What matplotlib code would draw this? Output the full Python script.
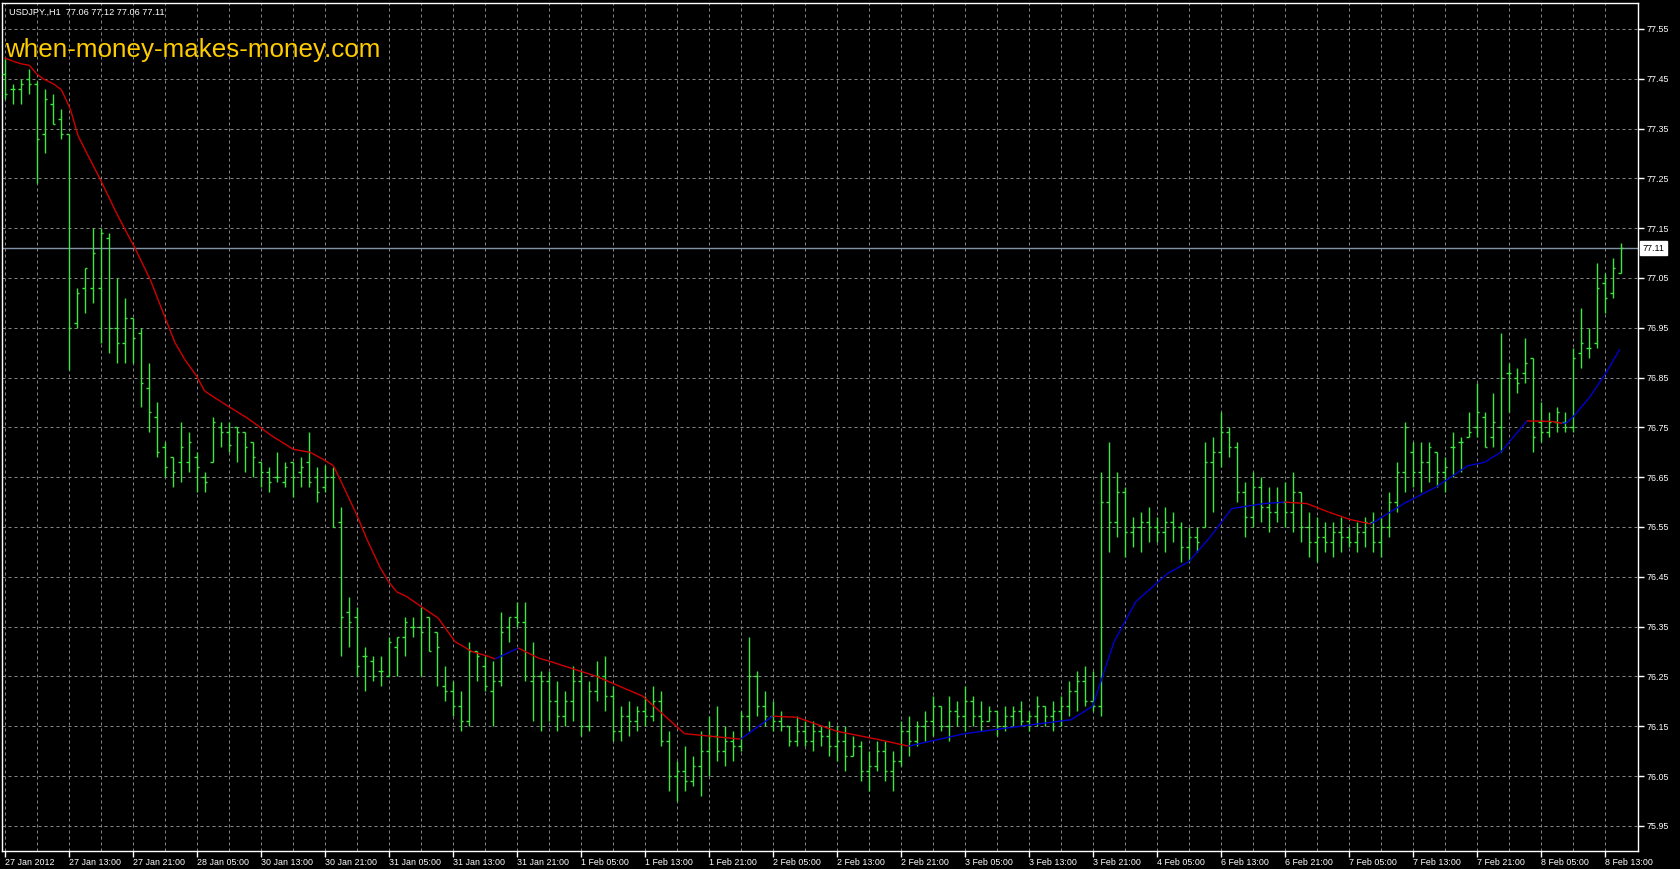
import matplotlib
matplotlib.use('Agg')
import matplotlib.pyplot as plt
import numpy as np

# USDJPY H1 bars (27 Jan 2012 .. 8 Feb 2012)
opens = [77.46, 77.43, 77.43, 77.45, 77.44, 77.34, 77.40, 77.37, 77.34, 76.96,
         77.03, 77.03, 77.03, 77.13, 76.95, 76.92, 76.97, 76.94, 76.83, 76.77,
         76.71, 76.69, 76.68, 76.68, 76.69, 76.65, 76.68, 76.75, 76.74, 76.75,
         76.74, 76.72, 76.68, 76.66, 76.65, 76.64, 76.68, 76.66, 76.68, 76.65,
         76.63, 76.65, 76.56, 76.38, 76.37, 76.29, 76.28, 76.26, 76.25, 76.31,
         76.33, 76.35, 76.35, 76.37, 76.34, 76.23, 76.22, 76.19, 76.16, 76.30,
         76.27, 76.22, 76.24, 76.35, 76.37, 76.36, 76.24, 76.25, 76.24, 76.20,
         76.17, 76.20, 76.24, 76.15, 76.22, 76.25, 76.21, 76.14, 76.17, 76.16,
         76.18, 76.17, 76.20, 76.12, 76.05, 76.06, 76.04, 76.07, 76.10, 76.13,
         76.10, 76.12, 76.11, 76.17, 76.25, 76.19, 76.17, 76.16, 76.15, 76.12,
         76.14, 76.12, 76.14, 76.13, 76.11, 76.12, 76.09, 76.11, 76.06, 76.07,
         76.10, 76.06, 76.08, 76.14, 76.12, 76.15, 76.16, 76.19, 76.15, 76.18,
         76.17, 76.20, 76.17, 76.16, 76.18, 76.15, 76.17, 76.18, 76.16, 76.17,
         76.19, 76.17, 76.18, 76.19, 76.22, 76.24, 76.20, 76.19, 76.60, 76.56,
         76.62, 76.54, 76.55, 76.56, 76.55, 76.54, 76.56, 76.55, 76.51, 76.53,
         76.55, 76.68, 76.70, 76.74, 76.71, 76.62, 76.57, 76.63, 76.59, 76.58,
         76.60, 76.58, 76.62, 76.55, 76.52, 76.53, 76.52, 76.54, 76.53, 76.52,
         76.54, 76.56, 76.52, 76.55, 76.60, 76.66, 76.70, 76.66, 76.68, 76.70,
         76.66, 76.71, 76.72, 76.73, 76.75, 76.77, 76.73, 76.75, 76.86, 76.85,
         76.86, 76.89, 76.76, 76.74, 76.76, 76.76, 76.75, 76.90, 76.91, 76.92,
         77.04, 77.02, 77.06]
highs = [77.49, 77.44, 77.45, 77.47, 77.445, 77.43, 77.42, 77.39, 77.34, 77.03,
         77.07, 77.15, 77.15, 77.14, 77.05, 77.01, 76.97, 76.95, 76.88, 76.80,
         76.72, 76.69, 76.76, 76.74, 76.70, 76.66, 76.77, 76.76, 76.76, 76.75,
         76.74, 76.72, 76.68, 76.67, 76.70, 76.68, 76.68, 76.69, 76.74, 76.67,
         76.675, 76.67, 76.59, 76.41, 76.39, 76.31, 76.29, 76.29, 76.33, 76.33,
         76.37, 76.37, 76.39, 76.37, 76.34, 76.27, 76.24, 76.22, 76.32, 76.30,
         76.29, 76.28, 76.38, 76.37, 76.40, 76.40, 76.32, 76.26, 76.26, 76.24,
         76.22, 76.27, 76.26, 76.24, 76.28, 76.29, 76.23, 76.19, 76.20, 76.19,
         76.21, 76.23, 76.22, 76.14, 76.08, 76.11, 76.09, 76.14, 76.17, 76.19,
         76.15, 76.14, 76.18, 76.33, 76.26, 76.22, 76.20, 76.18, 76.15, 76.17,
         76.16, 76.16, 76.15, 76.16, 76.15, 76.15, 76.13, 76.12, 76.10, 76.12,
         76.12, 76.10, 76.16, 76.17, 76.16, 76.18, 76.21, 76.19, 76.21, 76.20,
         76.23, 76.21, 76.20, 76.19, 76.18, 76.19, 76.19, 76.20, 76.18, 76.21,
         76.19, 76.20, 76.21, 76.24, 76.26, 76.27, 76.26, 76.66, 76.72, 76.66,
         76.63, 76.57, 76.58, 76.59, 76.57, 76.59, 76.58, 76.56, 76.55, 76.55,
         76.72, 76.73, 76.78, 76.75, 76.72, 76.64, 76.66, 76.65, 76.63, 76.63,
         76.64, 76.66, 76.62, 76.58, 76.57, 76.56, 76.56, 76.57, 76.55, 76.56,
         76.57, 76.58, 76.57, 76.62, 76.68, 76.76, 76.72, 76.72, 76.72, 76.70,
         76.69, 76.74, 76.73, 76.78, 76.84, 76.78, 76.82, 76.94, 76.88, 76.87,
         76.93, 76.89, 76.80, 76.78, 76.79, 76.78, 76.91, 76.99, 76.95, 77.08,
         77.06, 77.09, 77.12]
lows = [77.41, 77.40, 77.40, 77.42, 77.24, 77.30, 77.36, 77.33, 76.865, 76.95,
        76.98, 77.00, 76.92, 76.90, 76.88, 76.88, 76.88, 76.79, 76.74, 76.69,
        76.65, 76.63, 76.64, 76.66, 76.62, 76.62, 76.68, 76.71, 76.70, 76.68,
        76.66, 76.65, 76.63, 76.62, 76.64, 76.63, 76.61, 76.63, 76.63, 76.60,
        76.62, 76.55, 76.29, 76.31, 76.25, 76.22, 76.24, 76.23, 76.25, 76.25,
        76.29, 76.33, 76.25, 76.30, 76.23, 76.20, 76.17, 76.14, 76.15, 76.24,
        76.22, 76.15, 76.23, 76.32, 76.35, 76.24, 76.16, 76.14, 76.16, 76.14,
        76.15, 76.16, 76.13, 76.14, 76.20, 76.18, 76.12, 76.12, 76.13, 76.14,
        76.15, 76.16, 76.11, 76.02, 76.00, 76.02, 76.03, 76.01, 76.05, 76.08,
        76.07, 76.08, 76.10, 76.14, 76.17, 76.15, 76.14, 76.14, 76.11, 76.11,
        76.11, 76.10, 76.11, 76.09, 76.08, 76.06, 76.09, 76.04, 76.02, 76.06,
        76.04, 76.02, 76.07, 76.09, 76.11, 76.12, 76.13, 76.14, 76.12, 76.15,
        76.14, 76.15, 76.14, 76.16, 76.13, 76.14, 76.15, 76.15, 76.14, 76.15,
        76.15, 76.14, 76.15, 76.17, 76.18, 76.19, 76.18, 76.17, 76.50, 76.53,
        76.49, 76.51, 76.50, 76.52, 76.52, 76.50, 76.52, 76.48, 76.48, 76.50,
        76.55, 76.58, 76.67, 76.69, 76.60, 76.53, 76.55, 76.56, 76.54, 76.56,
        76.55, 76.54, 76.52, 76.49, 76.48, 76.50, 76.49, 76.50, 76.51, 76.50,
        76.51, 76.50, 76.49, 76.53, 76.58, 76.62, 76.63, 76.62, 76.64, 76.63,
        76.62, 76.65, 76.66, 76.73, 76.73, 76.71, 76.71, 76.70, 76.78, 76.82,
        76.84, 76.70, 76.72, 76.73, 76.74, 76.74, 76.74, 76.87, 76.89, 76.91,
        76.98, 77.01, 77.06]
closes = [77.42, 77.43, 77.44, 77.44, 77.33, 77.41, 77.36, 77.34, 76.95, 77.02,
          77.07, 77.10, 77.14, 76.95, 76.92, 76.97, 76.93, 76.84, 76.78, 76.70,
          76.67, 76.66, 76.71, 76.72, 76.67, 76.64, 76.76, 76.74, 76.715, 76.74,
          76.71, 76.69, 76.66, 76.64, 76.65, 76.67, 76.65, 76.67, 76.64, 76.62,
          76.65, 76.55, 76.37, 76.36, 76.27, 76.29, 76.25, 76.26, 76.32, 76.33,
          76.36, 76.35, 76.34, 76.30, 76.31, 76.22, 76.19, 76.16, 76.30, 76.29,
          76.23, 76.24, 76.34, 76.37, 76.36, 76.25, 76.25, 76.24, 76.20, 76.17,
          76.20, 76.24, 76.15, 76.22, 76.25, 76.21, 76.14, 76.17, 76.16, 76.18,
          76.17, 76.20, 76.12, 76.05, 76.06, 76.04, 76.07, 76.10, 76.13, 76.10,
          76.12, 76.11, 76.17, 76.25, 76.19, 76.17, 76.16, 76.15, 76.12, 76.14,
          76.12, 76.14, 76.13, 76.11, 76.12, 76.09, 76.11, 76.06, 76.07, 76.10,
          76.06, 76.08, 76.14, 76.12, 76.15, 76.16, 76.19, 76.15, 76.18, 76.17,
          76.20, 76.17, 76.16, 76.18, 76.15, 76.17, 76.18, 76.16, 76.17, 76.19,
          76.17, 76.18, 76.19, 76.22, 76.24, 76.20, 76.19, 76.60, 76.56, 76.62,
          76.54, 76.55, 76.56, 76.55, 76.54, 76.56, 76.55, 76.51, 76.53, 76.52,
          76.68, 76.70, 76.74, 76.71, 76.62, 76.57, 76.63, 76.59, 76.58, 76.60,
          76.58, 76.62, 76.55, 76.52, 76.53, 76.52, 76.54, 76.53, 76.52, 76.54,
          76.56, 76.52, 76.55, 76.60, 76.66, 76.75, 76.66, 76.68, 76.71, 76.66,
          76.67, 76.71, 76.72, 76.74, 76.78, 76.71, 76.76, 76.85, 76.86, 76.84,
          76.88, 76.73, 76.74, 76.76, 76.78, 76.75, 76.89, 76.92, 76.91, 77.03,
          77.01, 77.07, 77.11]

# moving average line (bar index, price)
ma_x = [0, 1.1, 2.1, 3.1, 4.0, 4.8, 6.1, 7.1, 8.2, 9.2, 10.3, 11.9, 14, 15.3, 16.3,
        17.5, 18.2, 20, 21.3, 22.5, 24, 25, 27.2, 28.9, 30.5, 32.2, 33.4, 34.4,
        36.1, 38.2, 39.8, 41.1, 42.1, 44, 45.3, 46.9, 48, 49, 50.3, 52.1, 54.2,
        56.3, 58.4, 60.5, 61.3, 64.2, 66.7, 68.2, 74, 79.8, 85, 92, 96, 99, 104,
        109, 113, 120, 127, 133.3, 136, 138.7, 141.4, 145.4, 148, 150.7, 153.4,
        157.4, 160, 162.8, 165.5, 168.2, 170.8, 174.9, 178.9, 182.9, 185, 187,
        190.3, 193.4, 194.7, 195.2, 196, 198.1, 200.2, 201.9]
ma_val = [77.492, 77.485, 77.48, 77.477, 77.46, 77.45, 77.44, 77.428, 77.39, 77.335,
          77.30, 77.25, 77.18, 77.14, 77.11, 77.07, 77.047, 76.973, 76.92, 76.887,
          76.853, 76.823, 76.80, 76.783, 76.767, 76.747, 76.733, 76.723, 76.706,
          76.70, 76.686, 76.673, 76.64, 76.575, 76.525, 76.47, 76.44, 76.42, 76.41,
          76.39, 76.367, 76.32, 76.30, 76.29, 76.285, 76.307, 76.287, 76.28, 76.25,
          76.21, 76.135, 76.124, 76.17, 76.168, 76.14, 76.124, 76.11, 76.135, 76.15,
          76.163, 76.19, 76.32, 76.40, 76.457, 76.48, 76.53, 76.587, 76.597, 76.60,
          76.597, 76.58, 76.565, 76.556, 76.597, 76.63, 76.673, 76.68, 76.70,
          76.763, 76.762, 76.758, 76.759, 76.77, 76.81, 76.86, 76.907]

price_ticks = [75.95, 76.05, 76.15, 76.25, 76.35, 76.45, 76.55, 76.65, 76.75,
               76.85, 76.95, 77.05, 77.15, 77.25, 77.35, 77.45, 77.55]
time_labels = ['27 Jan 2012', '27 Jan 13:00', '27 Jan 21:00', '28 Jan 05:00',
               '30 Jan 13:00', '30 Jan 21:00', '31 Jan 05:00', '31 Jan 13:00',
               '31 Jan 21:00', '1 Feb 05:00', '1 Feb 13:00', '1 Feb 21:00',
               '2 Feb 05:00', '2 Feb 13:00', '2 Feb 21:00', '3 Feb 05:00',
               '3 Feb 13:00', '3 Feb 21:00', '4 Feb 05:00', '6 Feb 13:00',
               '6 Feb 21:00', '7 Feb 05:00', '7 Feb 13:00', '7 Feb 21:00',
               '8 Feb 05:00', '8 Feb 13:00']
last_price = 77.11

green = '#3ce63c'
font = 'Liberation Sans'

fig = plt.figure(figsize=(16.8, 8.69), dpi=100, facecolor='black')
ax = fig.add_axes([2 / 1680, 18 / 869, 1636 / 1680, 848 / 869], facecolor='black')

idx = np.arange(len(closes))
ax.vlines(idx, lows, highs, color=green, lw=1, zorder=3)
ax.hlines(opens, idx - 0.35, idx, color=green, lw=1, zorder=3)
ax.hlines(closes, idx, idx + 0.35, color=green, lw=1, zorder=3)

# coloured MA: red while falling, blue while rising
for i in range(len(ma_x) - 1):
    c = '#0000d0' if ma_val[i + 1] > ma_val[i] else '#d00000'
    ax.plot(ma_x[i:i + 2], ma_val[i:i + 2], color=c, lw=1.0, zorder=4,
            solid_capstyle='butt')

ax.axhline(last_price, color='#8492a6', lw=1, zorder=2)

ax.set_xlim(-0.325, 204.175)
ax.set_ylim(75.8994, 77.6022)

ax.set_xticks(np.arange(0, 8 * len(time_labels), 8))
ax.set_xticklabels(time_labels)
ax.set_xticks(np.arange(4, 204, 8), minor=True)
ax.yaxis.tick_right()
ax.set_yticks(price_ticks)
ax.set_yticklabels(['%.2f' % p for p in price_ticks])

ax.set_axisbelow(True)
ax.grid(which='both', axis='x', color='#858585', lw=0.72, linestyle=(0, (3, 3)))
ax.grid(which='major', axis='y', color='#858585', lw=0.72, linestyle=(0, (3, 3)))

ax.tick_params(which='major', colors='white', length=4, width=1, labelsize=6.4, pad=1)
ax.tick_params(which='minor', length=0)
ax.tick_params(axis='y', pad=2)
for lab in ax.get_xticklabels() + ax.get_yticklabels():
    lab.set_fontfamily(font)
for lab in ax.get_xticklabels():
    lab.set_ha('left')
for sp in ax.spines.values():
    sp.set_color('white')
    sp.set_linewidth(1)

ax.annotate('%.2f' % last_price, xy=(1, last_price), xycoords=('axes fraction', 'data'),
            xytext=(3.2, 0), textcoords='offset points', ha='left', va='center',
            fontsize=6.4, family=font, color='black',
            bbox=dict(boxstyle='square,pad=0.25', fc='white', ec='white'))

fig.text(9 / 1680, 1 - 12 / 869, 'USDJPY.,H1  77.06 77.12 77.06 77.11', color='white',
         fontsize=6.6, family=font, va='center', ha='left')
fig.text(5 / 1680, 1 - 57 / 869, 'when-money-makes-money.com', color='#ffcc00',
         fontsize=18.7, family=font, va='baseline', ha='left')

fig.savefig('out.png', dpi=100, facecolor='black')
